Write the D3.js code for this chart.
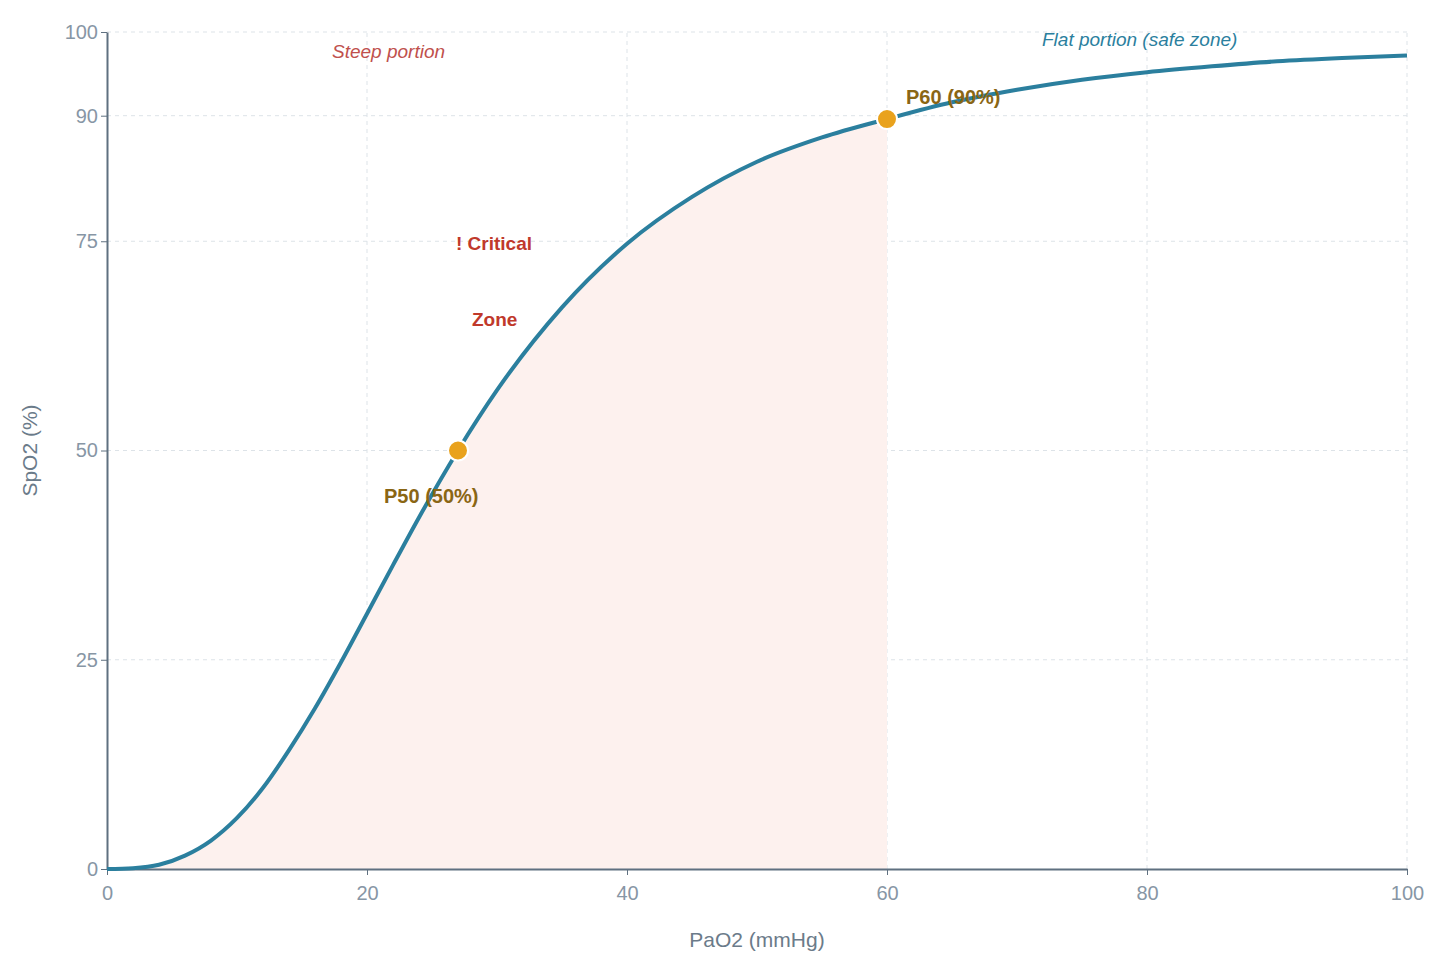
<!DOCTYPE html>
<html>
<head>
<meta charset="utf-8">
<script src="https://cdn.jsdelivr.net/npm/d3@7"></script>
<style>
  body { margin: 0; background: #fff; font-family: "Liberation Sans", Arial, sans-serif; }
</style>
</head>
<body>
<div id="chart"></div>
<script>
// values
var pao2 = [0, 2, 4, 6, 8, 10, 12, 14, 16, 18, 20, 22, 24, 27, 30, 35, 40, 45, 50, 55, 60, 65, 70, 75, 80, 85, 90, 95, 100];
var spo2 = [0, 0.1, 0.5, 1.6, 3.4, 6.1, 9.7, 14.2, 19.2, 24.7, 30.5, 36.3, 42, 50, 57.2, 67.1, 74.7, 80.3, 84.5, 87.4, 89.6, 91.6, 93.1, 94.3, 95.2, 95.9, 96.5, 96.9, 97.2];
var xTicks = [0, 20, 40, 60, 80, 100];
var yTicks = [0, 25, 50, 75, 90, 100];
var markers = [
    { x: 27, y: 50, label: 'P50 (50%)' },
    { x: 60, y: 89.6, label: 'P60 (90%)' }
];
var shadeEnd = 60;

var width = 1440, height = 959;
var margin = { top: 32, right: 33, bottom: 90, left: 107 };

var svg = d3.select('#chart').append('svg')
    .attr('width', width)
    .attr('height', height);

var x = d3.scaleLinear().domain([0, 100]).range([margin.left, width - margin.right]);
var y = d3.scaleLinear().domain([0, 100]).range([height - margin.bottom, margin.top]);

var points = pao2.map(function(v, i) { return [v, spo2[i]]; });

// grid
svg.append('g').selectAll('line.h').data(yTicks.filter(function(d) { return d > 0; }))
    .enter().append('line')
    .attr('x1', x(0)).attr('x2', x(100))
    .attr('y1', function(d) { return y(d); }).attr('y2', function(d) { return y(d); })
    .attr('stroke', '#dde3e8').attr('stroke-dasharray', '4,4');
svg.append('g').selectAll('line.v').data(xTicks.filter(function(d) { return d > 0; }))
    .enter().append('line')
    .attr('y1', y(0)).attr('y2', y(100))
    .attr('x1', function(d) { return x(d); }).attr('x2', function(d) { return x(d); })
    .attr('stroke', '#dde3e8').attr('stroke-dasharray', '4,4');

// shaded critical area
var area = d3.area()
    .x(function(d) { return x(d[0]); })
    .y0(y(0))
    .y1(function(d) { return y(d[1]); })
    .curve(d3.curveMonotoneX);
svg.append('path')
    .datum(points.filter(function(d) { return d[0] <= shadeEnd; }))
    .attr('d', area)
    .attr('fill', '#fdf1ee');

// axes
var xAxis = svg.append('g')
    .attr('transform', 'translate(0,' + y(0) + ')')
    .call(d3.axisBottom(x).tickValues(xTicks).tickSize(6).tickSizeOuter(0));
var yAxis = svg.append('g')
    .attr('transform', 'translate(' + x(0) + ',0)')
    .call(d3.axisLeft(y).tickValues(yTicks).tickSize(6).tickSizeOuter(0));
[xAxis, yAxis].forEach(function(g) {
    g.select('.domain').attr('stroke', '#5f7080').attr('stroke-width', 2);
    g.selectAll('.tick line').attr('stroke', '#5f7080');
    g.selectAll('.tick text').attr('fill', '#8796a5').style('font-size', '20px');
});
xAxis.selectAll('.tick text').attr('dy', '1.1em');

svg.append('text')
    .attr('x', (x(0) + x(100)) / 2).attr('y', 947)
    .attr('text-anchor', 'middle').attr('fill', '#6b7b8a').style('font-size', '21px')
    .text('PaO2 (mmHg)');
svg.append('text')
    .attr('transform', 'translate(37,' + y(50) + ') rotate(-90)')
    .attr('text-anchor', 'middle').attr('fill', '#6b7b8a').style('font-size', '21px')
    .text('SpO2 (%)');

// curve
var line = d3.line()
    .x(function(d) { return x(d[0]); })
    .y(function(d) { return y(d[1]); })
    .curve(d3.curveMonotoneX);
svg.append('path')
    .datum(points)
    .attr('d', line)
    .attr('fill', 'none')
    .attr('stroke', '#2b7f9e')
    .attr('stroke-width', 4);

// markers
svg.selectAll('circle.m').data(markers).enter().append('circle')
    .attr('cx', function(d) { return x(d.x); })
    .attr('cy', function(d) { return y(d.y); })
    .attr('r', 10)
    .attr('fill', '#e9a21d')
    .attr('stroke', '#fff').attr('stroke-width', 2);

function label(tx, ty, text, color, opts) {
    opts = opts || {};
    svg.append('text')
        .attr('x', tx).attr('y', ty)
        .attr('fill', color)
        .style('font-size', (opts.size || 18) + 'px')
        .style('font-weight', opts.bold ? 'bold' : 'normal')
        .style('font-style', opts.italic ? 'italic' : 'normal')
        .text(text);
}
label(x(27) - 74, y(50) + 52, markers[0].label, '#8a6614', { bold: true, size: 20 });
label(x(60) + 19, y(90) - 12, markers[1].label, '#8a6614', { bold: true, size: 20 });
label(456, 250, '! Critical', '#c0392b', { bold: true, size: 19 });
label(472, 326, 'Zone', '#c0392b', { bold: true, size: 19 });
label(332, 58, 'Steep portion', '#c0504d', { italic: true, size: 19 });
label(1042, 46, 'Flat portion (safe zone)', '#2b7f9e', { italic: true, size: 19 });
</script>
</body>
</html>
